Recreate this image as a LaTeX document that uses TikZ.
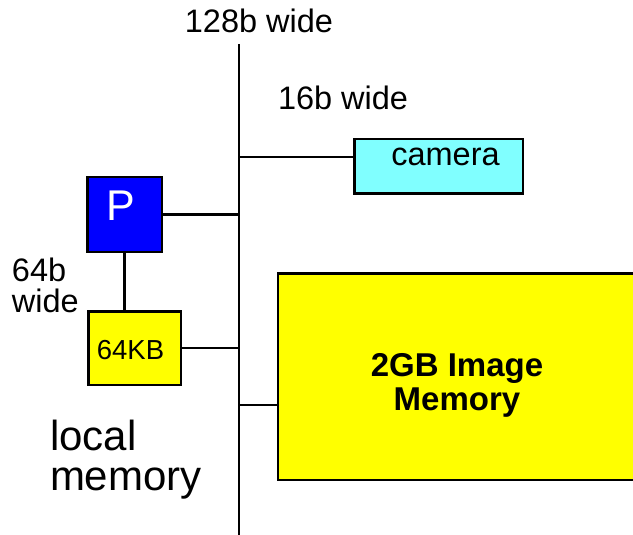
\documentclass[tikz,border=0pt]{standalone}
\usepackage{fontspec}
\setmainfont{Liberation Sans}
\definecolor{camcyan}{HTML}{80FFFF}
\definecolor{pblue}{HTML}{0000FF}
\definecolor{memyellow}{HTML}{FFFF00}
\begin{document}
\begin{tikzpicture}[x=1pt,y=-1pt,
  box/.style={draw=black, line width=2.5pt, inner sep=0pt, outer sep=0pt},
  wire/.style={line width=2.5pt},
  lbl/.style={inner sep=0pt, outer sep=0pt, font=\fontsize{32.5}{31}\selectfont},
]
\useasboundingbox (0,0) rectangle (633,535);
\clip (0,0) rectangle (633,535);
\fill[white] (0,0) rectangle (633,535);
% bus
\coordinate (bt) at (239,44);
\coordinate (bb) at (239,540);
\draw[wire] (bt) -- (bb);
% boxes
\node[box, fill=camcyan, minimum width=168.5pt, minimum height=54.5pt] (cam) at (438.5,166.5) {};
\node[box, fill=pblue, minimum width=74.5pt, minimum height=74.5pt] (P) at (124.5,214.5) {};
\node[box, fill=memyellow, minimum width=92.5pt, minimum height=73.5pt] (loc) at (134.5,348) {};
\node[box, fill=memyellow, minimum width=367pt, minimum height=206.5pt] (big) at (461.5,376.5) {};
% connectors
\coordinate (camc) at ([yshift=9.5pt]cam.west);
\coordinate (bigc) at ([yshift=-28.5pt]big.west);
\draw[wire] (camc) -- (camc -| bt);
\draw[wire] (P.east) -- (P.east -| bt);
\draw[wire] (loc.east) -- (loc.east -| bt);
\draw[wire] (bigc) -- (bigc -| bt);
\draw[wire] (P.south) -- (P.south |- loc.north);
% labels
\node[lbl, anchor=base] (t128) at (259,33) {128b wide};
\node[lbl, anchor=base west] (t16) at (278,110) {16b wide};
\node[lbl, anchor=base] (camtxt) at (445.5,165) {camera};
\node[lbl, anchor=base, text=white, font=\fontsize{43}{43}\selectfont] (Ptxt) at (120.5,221) {P};
\node[lbl, anchor=base, font=\fontsize{27.5}{27}\selectfont] (loctxt) at (130.5,359) {64KB};
\node[lbl, anchor=base west, align=left] (t64) at (12,312) {64b\\wide};
\node[lbl, anchor=base west, align=left, font=\fontsize{42}{40}\selectfont] (tlocal) at (50,490) {local\\memory};
\node[lbl, anchor=base, align=center, font=\fontsize{33}{34}\selectfont\bfseries] (bigtxt) at (457,410) {2GB Image\\Memory};
\end{tikzpicture}
\end{document}
